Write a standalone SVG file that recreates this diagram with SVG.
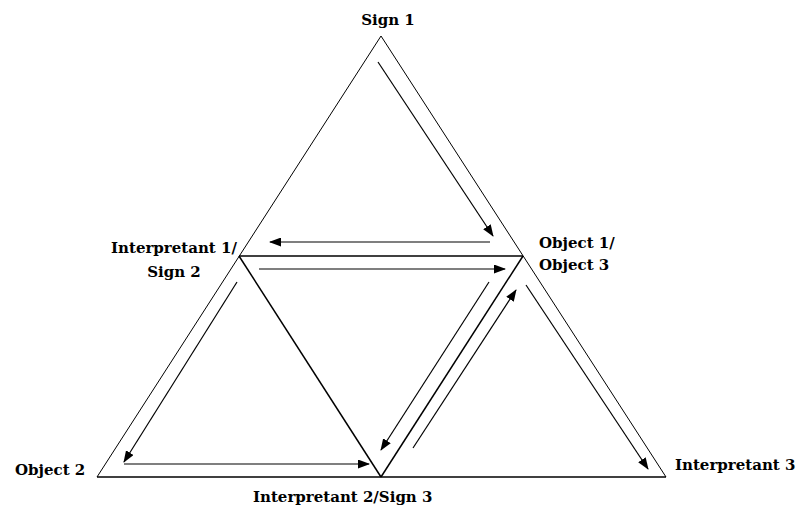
<svg xmlns="http://www.w3.org/2000/svg" width="797" height="509" viewBox="0 0 797 509">
<style>
.lbl{font-family:"DejaVu Serif","Liberation Serif",serif;font-weight:bold;font-size:15px;fill:#000}
.edge{stroke:#000;fill:none;stroke-width:1}
.edge2{stroke:#000;fill:none;stroke-width:1.5}
.arr{stroke:#000;fill:none;stroke-width:1.2;marker-end:url(#ah)}
</style>
<defs>
<marker id="ah" markerUnits="userSpaceOnUse" markerWidth="12" markerHeight="9" refX="11" refY="4.5" orient="auto">
<path d="M0,0 L12,4.5 L0,9 Z" fill="#000"/>
</marker>
</defs>
<rect width="797" height="509" fill="#fff"/>
<g id="triangles">
<line class="edge" x1="381" y1="36" x2="97" y2="477"/>
<line class="edge" x1="381" y1="36" x2="666" y2="477"/>
<line class="edge2" x1="97" y1="477" x2="666" y2="477"/>
<line class="edge2" x1="239" y1="256" x2="523" y2="256"/>
<line class="edge2" x1="239" y1="256" x2="381" y2="477"/>
<line class="edge2" x1="523" y1="256" x2="381" y2="477"/>
</g>
<g id="connectors">
<line class="arr" x1="378" y1="62" x2="493" y2="236"/>
<line class="arr" x1="490" y1="242" x2="270" y2="242"/>
<line class="arr" x1="259" y1="269" x2="505" y2="269"/>
<line class="arr" x1="237" y1="282" x2="124" y2="462"/>
<line class="arr" x1="124" y1="464" x2="369" y2="464"/>
<line class="arr" x1="489" y1="282" x2="381" y2="450"/>
<line class="arr" x1="413" y1="448" x2="516" y2="290"/>
<line class="arr" x1="526" y1="285" x2="648" y2="469"/>
</g>
<g id="sign1"><text class="lbl" x="388" y="25" text-anchor="middle">Sign 1</text></g>
<g id="interpretant1"><text class="lbl" x="174" y="253" text-anchor="middle">Interpretant 1/</text><text class="lbl" x="174" y="277" text-anchor="middle">Sign 2</text></g>
<g id="object1"><text class="lbl" x="539" y="248">Object 1/</text><text class="lbl" x="539" y="270">Object 3</text></g>
<g id="object2"><text class="lbl" x="15" y="475">Object 2</text></g>
<g id="interpretant2"><text class="lbl" x="253" y="502">Interpretant 2/Sign 3</text></g>
<g id="interpretant3"><text class="lbl" x="675" y="470">Interpretant 3</text></g>
</svg>
